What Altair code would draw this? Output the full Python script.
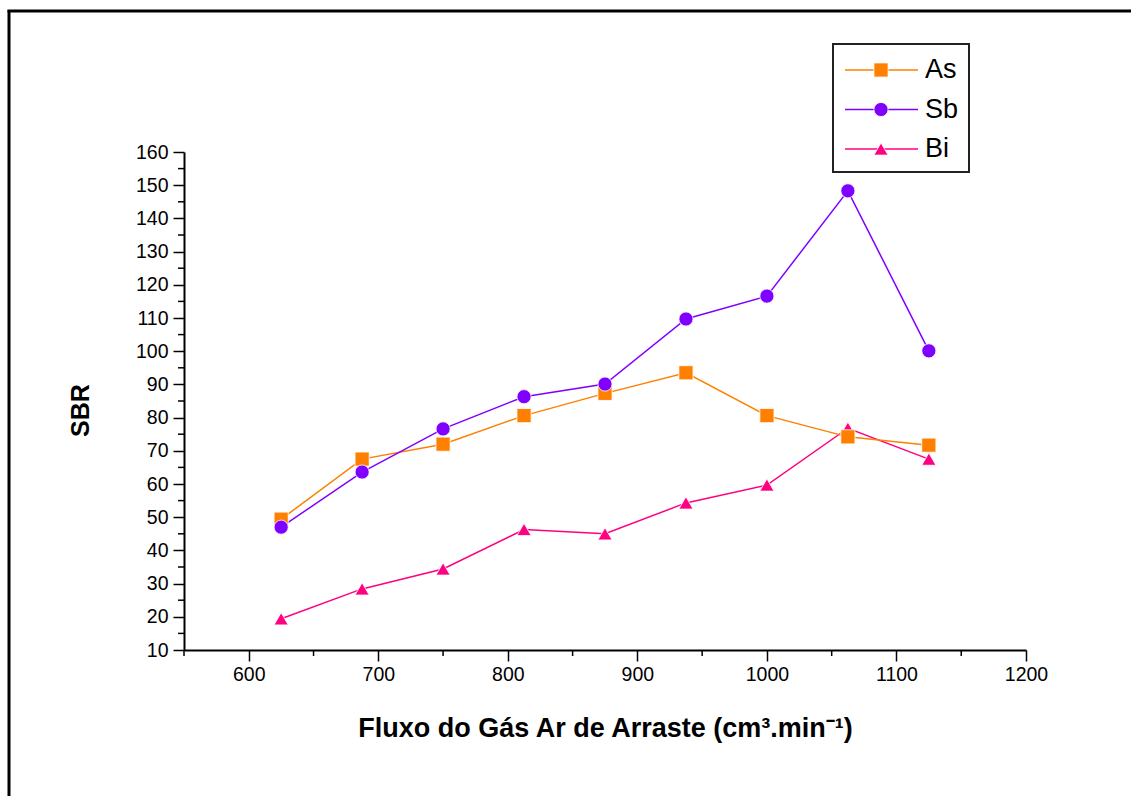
import altair as alt
import pandas as pd

flow = [625, 687.5, 750, 812.5, 875, 937.5, 1000, 1062.5, 1125]
as_vals = [49.4, 67.5, 72.0, 80.6, 87.3, 93.5, 80.6, 74.2, 71.7]
sb_vals = [47.0, 63.6, 76.6, 86.3, 90.1, 109.7, 116.6, 148.3, 100.1]
bi_vals = [19.4, 28.4, 34.4, 46.3, 45.0, 54.3, 59.7, 76.8, 67.5]

series = ["As", "Sb", "Bi"]
colors = ["#FF8000", "#8000FF", "#FF0080"]
shapes = ["square", "circle", "triangle-up"]
sizes = [200, 200, 430]

x_major = [600, 700, 800, 900, 1000, 1100, 1200]
x_minor = [550, 650, 750, 850, 950, 1050, 1150]
y_major = list(range(10, 161, 10))
y_minor = list(range(15, 160, 10))

FONT = "Liberation Sans"
W, H = 842, 498

rows = []
# draw order: Bi, As, Sb
for name, vals in (("Bi", bi_vals), ("As", as_vals), ("Sb", sb_vals)):
    for f, v in zip(flow, vals):
        rows.append({"flow": f, "SBR": v, "serie": name})
df = pd.DataFrame(rows)

color_scale = alt.Scale(domain=series, range=colors)
shape_scale = alt.Scale(domain=series, range=shapes)
size_scale = alt.Scale(domain=series, range=sizes)

x_axis = alt.Axis(
    values=x_major, format="d", title="Fluxo do Gás Ar de Arraste (cm³.min⁻¹)",
    titleFont=FONT, titleFontSize=27, titleFontWeight="bold", titleColor="black",
    titleBaseline="middle", titleY=78,
    labelFont=FONT, labelFontSize=19.5, labelColor="black", labelPadding=4,
    labelOverlap=False,
    tickSize=11, tickWidth=1.5, tickColor="black",
    domainColor="black", domainWidth=2, grid=False, labelFlush=False,
)
y_axis = alt.Axis(
    values=y_major, format="d", title="SBR",
    titleFont=FONT, titleFontSize=25, titleFontWeight="bold", titleColor="black",
    titleBaseline="middle", titleAngle=270, titleX=-104, titleY=258,
    labelFont=FONT, labelFontSize=19.5, labelColor="black", labelPadding=5,
    labelOverlap=False,
    tickSize=11, tickWidth=1.5, tickColor="black",
    domainColor="black", domainWidth=2, grid=False, labelFlush=False,
)
x_scale = alt.Scale(domain=[550, 1200], nice=False, zero=False)
y_scale = alt.Scale(domain=[10, 160], nice=False, zero=False)

base = alt.Chart(df)
lines = base.mark_line(strokeWidth=1.5).encode(
    x=alt.X("flow:Q", scale=x_scale, axis=x_axis),
    y=alt.Y("SBR:Q", scale=y_scale, axis=y_axis),
    color=alt.Color("serie:N", scale=color_scale, legend=None),
    detail="serie:N",
)
points = base.mark_point(filled=True, opacity=1, stroke="white", strokeWidth=0.8).encode(
    x=alt.X("flow:Q", scale=x_scale, axis=x_axis),
    y=alt.Y("SBR:Q", scale=y_scale, axis=y_axis),
    color=alt.Color("serie:N", scale=color_scale, legend=None),
    shape=alt.Shape("serie:N", scale=shape_scale, legend=None),
    size=alt.Size("serie:N", scale=size_scale, legend=None),
)

xminor = alt.Chart(pd.DataFrame({"flow": x_minor})).mark_rule(color="black", strokeWidth=1.5).encode(
    x=alt.X("flow:Q", scale=x_scale, axis=x_axis), y=alt.value(H), y2=alt.value(H + 6)
)
yminor = alt.Chart(pd.DataFrame({"SBR": y_minor})).mark_rule(color="black", strokeWidth=1.5).encode(
    y=alt.Y("SBR:Q", scale=y_scale, axis=y_axis), x=alt.value(-6), x2=alt.value(0)
)

main = alt.layer(lines, points, xminor, yminor)

# legend box (decoration)
one = pd.DataFrame({"a": [0]})
leg_df = pd.DataFrame({"serie": series, "idx": [0, 1, 2]})
leg_y = alt.Y("idx:Q", scale=alt.Scale(domain=[0, 2], range=[-82, -3], nice=False, zero=False), axis=None)

leg_box = alt.Chart(one).mark_rect(fill="white", stroke="#222222", strokeWidth=2).encode(
    x=alt.value(649), x2=alt.value(785), y=alt.value(-108), y2=alt.value(20)
)
leg_lines = alt.Chart(leg_df).mark_rule(strokeWidth=1.5).encode(
    y=leg_y, x=alt.value(661), x2=alt.value(734),
    color=alt.Color("serie:N", scale=color_scale, legend=None),
)
leg_pts = alt.Chart(leg_df).mark_point(filled=True, opacity=1, stroke="white", strokeWidth=0.8).encode(
    y=leg_y, x=alt.value(697),
    color=alt.Color("serie:N", scale=color_scale, legend=None),
    shape=alt.Shape("serie:N", scale=shape_scale, legend=None),
    size=alt.Size("serie:N", scale=size_scale, legend=None),
)
leg_txt = alt.Chart(leg_df).mark_text(
    font=FONT, fontSize=27, align="left", baseline="middle", color="black"
).encode(y=leg_y, x=alt.value(741), text="serie:N")

legend = alt.layer(leg_box, leg_lines, leg_pts, leg_txt)

# outer frame (decoration)
frame_left = alt.Chart(one).mark_rule(color="black", strokeWidth=3).encode(
    x=alt.value(-175), y=alt.value(-142), y2=alt.value(700)
)
frame_top = alt.Chart(one).mark_rule(color="black", strokeWidth=3).encode(
    y=alt.value(-141), x=alt.value(-176.5), x2=alt.value(960)
)
frame = alt.layer(frame_left, frame_top)

chart = alt.layer(main, legend, frame).resolve_scale(y="independent").properties(
    width=W, height=H,
    autosize=alt.AutoSizeParams(type="none"),
    padding={"left": 184, "top": 152, "right": 105, "bottom": 146},
    background="white",
).configure_view(stroke=None).configure_axis(labelOverlap=False, labelBound=False)

chart.save("out.html", embed_options={"renderer": "svg", "actions": False})
